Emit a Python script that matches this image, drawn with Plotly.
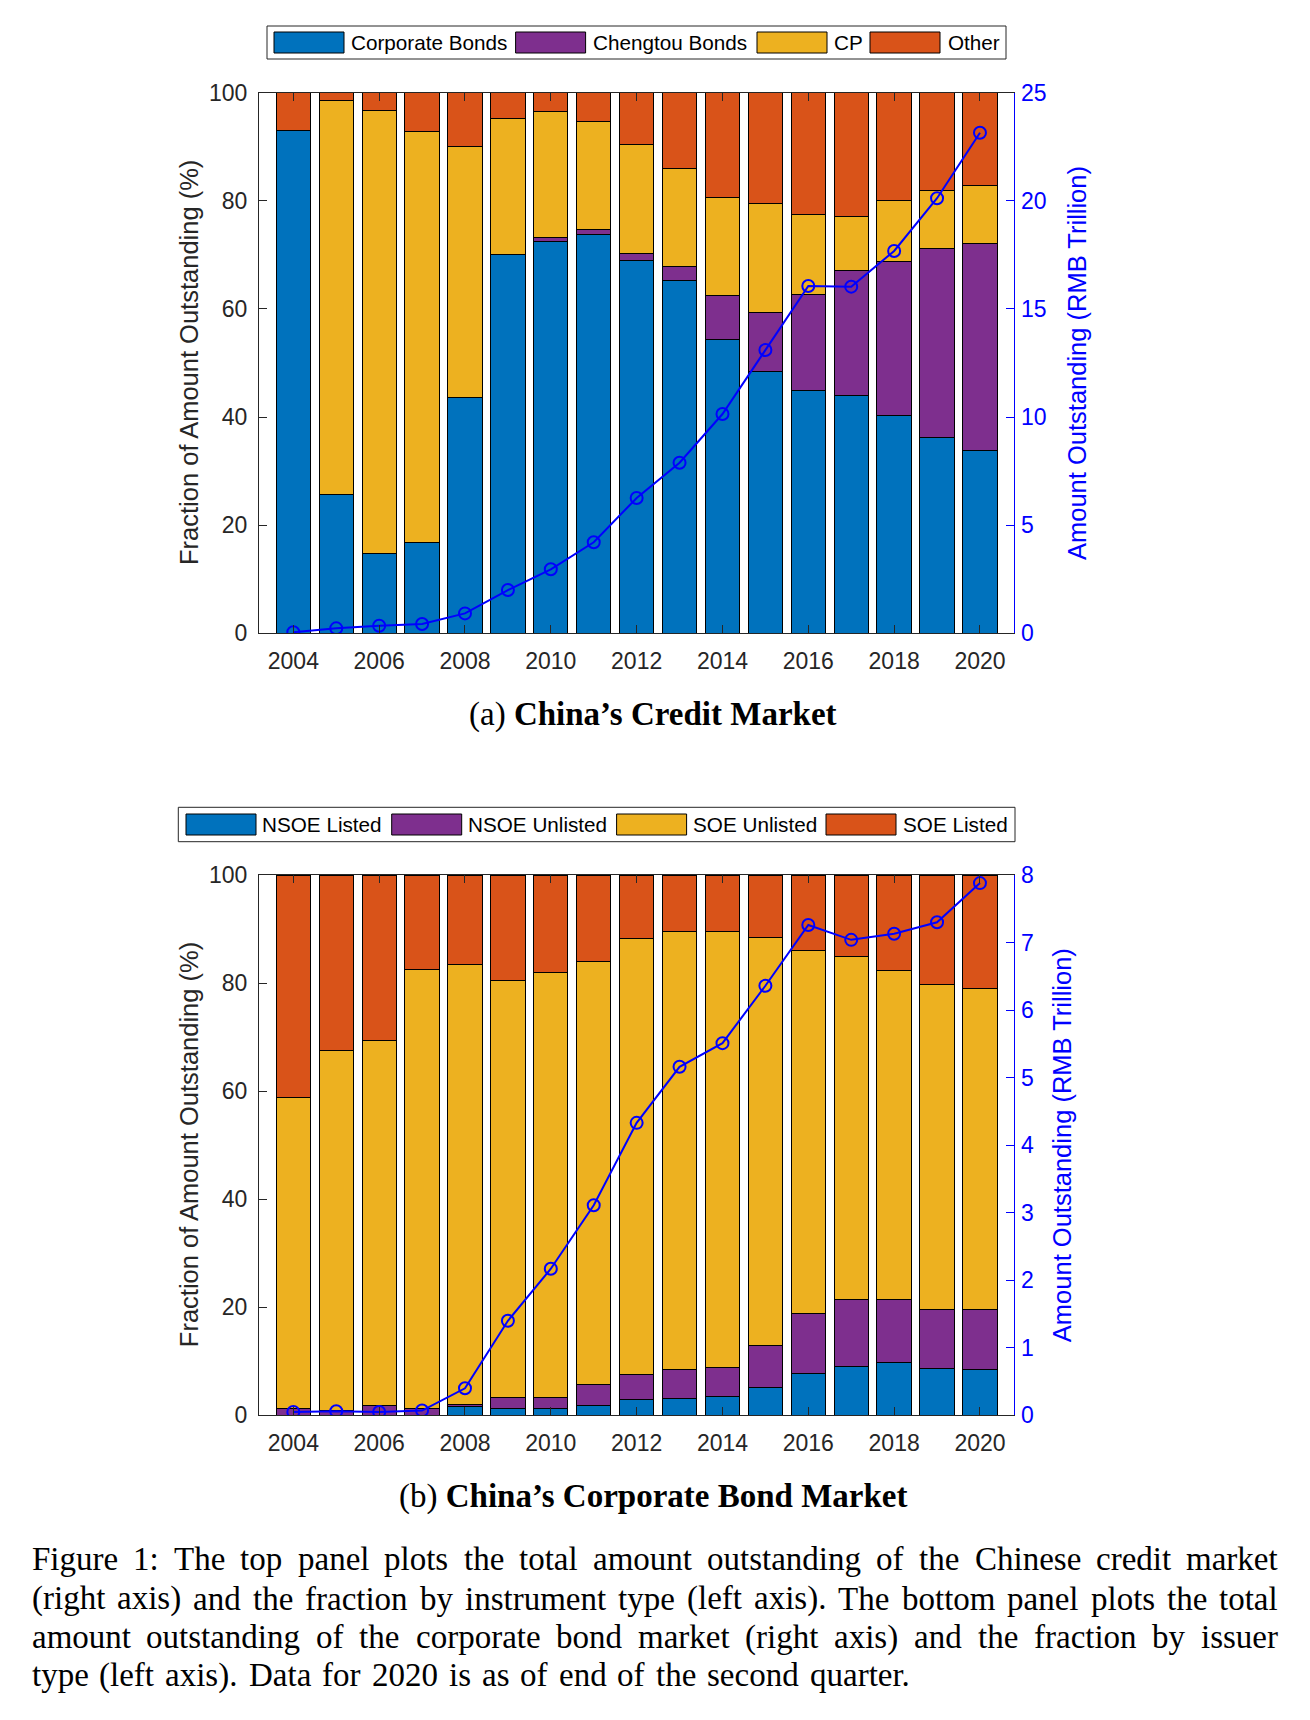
import plotly.graph_objects as go

# ---------------- data ----------------
years = list(range(2004, 2021))
xtick_years = list(range(2004, 2021, 2))

# Panel (a): China's credit market, fraction by instrument (%)
corporate_bonds = [93.0, 25.6, 14.8, 16.8, 43.6, 70.0, 72.5, 73.7, 68.9, 65.2, 54.3, 48.5, 45.0, 43.9, 40.2, 36.2, 33.9]
chengtou_bonds = [0.0, 0.0, 0.0, 0.0, 0.0, 0.0, 0.8, 1.0, 1.4, 2.7, 8.1, 10.9, 17.6, 23.2, 28.5, 34.9, 38.2]
cp = [0.0, 72.9, 82.0, 76.0, 46.4, 25.2, 23.3, 19.9, 20.2, 18.0, 18.2, 20.1, 14.8, 10.0, 11.4, 10.8, 10.8]
other = [7.0, 1.5, 3.2, 7.2, 10.0, 4.8, 3.4, 5.4, 9.5, 14.1, 19.4, 20.5, 22.6, 22.9, 19.9, 18.1, 17.1]
credit_total = [0.05, 0.23, 0.35, 0.43, 0.92, 2.0, 2.96, 4.21, 6.26, 7.89, 10.14, 13.1, 16.06, 16.03, 17.68, 20.12, 23.15]

# Panel (b): China's corporate bond market, fraction by issuer (%)
nsoe_listed = [0.0, 0.0, 0.0, 0.0, 1.6, 1.2, 1.3, 1.8, 3.0, 3.1, 3.4, 5.2, 7.8, 9.1, 9.8, 8.6, 8.4]
nsoe_unlisted = [1.2, 0.9, 1.8, 1.3, 0.4, 2.1, 2.0, 3.9, 4.6, 5.4, 5.5, 7.8, 11.0, 12.3, 11.7, 10.9, 11.1]
soe_unlisted = [57.6, 66.6, 67.5, 81.2, 81.4, 77.1, 78.7, 78.3, 80.7, 81.0, 80.7, 75.4, 67.3, 63.5, 60.9, 60.2, 59.5]
soe_listed = [41.2, 32.5, 30.7, 17.5, 16.6, 19.6, 18.0, 16.0, 11.7, 10.5, 10.4, 11.6, 13.9, 15.1, 17.6, 20.3, 21.0]
bond_total = [0.05, 0.06, 0.05, 0.07, 0.40, 1.40, 2.17, 3.11, 4.33, 5.16, 5.51, 6.36, 7.26, 7.04, 7.13, 7.30, 7.88]

left_ticks = [0, 20, 40, 60, 80, 100]
right_ticks_a = [0, 5, 10, 15, 20, 25]
right_ticks_b = [0, 1, 2, 3, 4, 5, 6, 7, 8]

top_names = ["Corporate Bonds", "Chengtou Bonds", "CP", "Other"]
bottom_names = ["NSOE Listed", "NSOE Unlisted", "SOE Unlisted", "SOE Listed"]

caption_lines = [
    "Figure 1:  The top panel plots the total amount outstanding of the Chinese credit market",
    "(right axis) and the fraction by instrument type (left axis). The bottom panel plots the total",
    "amount outstanding of the corporate bond market (right axis) and the fraction by issuer",
    "type (left axis). Data for 2020 is as of end of the second quarter.",
]

# ---------------- style ----------------
W, H = 1310, 1720
COLORS = ["#0072BD", "#7E2F8E", "#EDB120", "#D95319"]
AX = "#262626"
BLUE = "#0000FF"
SANS = "Liberation Sans, Arial, sans-serif"
SERIF = "Liberation Serif, Times New Roman, serif"


def fx(p):
    return p / W


def fy(p):
    return 1 - p / H


fig = go.Figure()

for name, vals, col in zip(top_names, [corporate_bonds, chengtou_bonds, cp, other], COLORS):
    fig.add_trace(go.Bar(x=years, y=vals, name=name, marker=dict(color=col, line=dict(color="black", width=1)),
                         xaxis="x", yaxis="y", showlegend=False))
fig.add_trace(go.Scatter(x=years, y=credit_total, mode="lines+markers", xaxis="x", yaxis="y2",
                         line=dict(color=BLUE, width=2),
                         marker=dict(symbol="circle-open", size=12, color=BLUE, line=dict(width=2, color=BLUE)),
                         showlegend=False))

for name, vals, col in zip(bottom_names, [nsoe_listed, nsoe_unlisted, soe_unlisted, soe_listed], COLORS):
    fig.add_trace(go.Bar(x=years, y=vals, name=name, marker=dict(color=col, line=dict(color="black", width=1)),
                         xaxis="x2", yaxis="y3", showlegend=False))
fig.add_trace(go.Scatter(x=years, y=bond_total, mode="lines+markers", xaxis="x2", yaxis="y4",
                         line=dict(color=BLUE, width=2),
                         marker=dict(symbol="circle-open", size=12, color=BLUE, line=dict(width=2, color=BLUE)),
                         showlegend=False))

tickfont = dict(family=SANS, size=23, color=AX)


def xaxis_cfg(anchor):
    return dict(anchor=anchor, domain=[fx(259), fx(1014.3)], range=[2003.2, 2020.8],
                tickvals=xtick_years, ticktext=[str(v) for v in xtick_years],
                ticks="inside", ticklen=8, tickwidth=1, tickcolor=AX,
                showline=True, linecolor=AX, linewidth=1, mirror="ticks", automargin=False,
                showgrid=False, zeroline=False, tickfont=tickfont, ticklabelstandoff=7)


def yleft_cfg(anchor, top, bottom):
    return dict(anchor=anchor, domain=[fy(bottom), fy(top)], range=[0, 100],
                tickvals=left_ticks, ticktext=[str(v) for v in left_ticks],
                ticks="inside", ticklen=8, tickwidth=1, tickcolor=AX,
                showline=True, linecolor=AX, linewidth=1, mirror=False, automargin=False,
                showgrid=False, zeroline=False, tickfont=tickfont, ticklabelstandoff=6)


def yright_cfg(anchor, overlay, rng, tv):
    return dict(anchor=anchor, overlaying=overlay, side="right", range=rng,
                tickvals=tv, ticktext=[str(v) for v in tv],
                ticks="inside", ticklen=8, tickwidth=1, tickcolor=BLUE,
                showline=True, linecolor=BLUE, linewidth=1, automargin=False,
                showgrid=False, zeroline=False,
                tickfont=dict(family=SANS, size=23, color=BLUE), ticklabelstandoff=1)


TOP_A, BOT_A = 92.7, 633.3
TOP_B, BOT_B = 875.0, 1415.3

fig.update_layout(
    width=W, height=H, autosize=False,
    margin=dict(l=0, r=0, t=0, b=0, pad=0, autoexpand=False),
    paper_bgcolor="white", plot_bgcolor="white",
    barmode="stack", bargap=0.2, showlegend=False,
    xaxis=xaxis_cfg("y"),
    yaxis=yleft_cfg("x", TOP_A, BOT_A),
    yaxis2=yright_cfg("x", "y", [0, 25], right_ticks_a),
    xaxis2=xaxis_cfg("y3"),
    yaxis3=yleft_cfg("x2", TOP_B, BOT_B),
    yaxis4=yright_cfg("x2", "y3", [0, 8], right_ticks_b),
)

annotations = []
shapes = []

# axis titles
ytitle = "Fraction of Amount Outstanding (%)"
rtitle = "Amount Outstanding (RMB Trillion)"
for cy, rx in [((TOP_A + BOT_A) / 2, 1077), ((TOP_B + BOT_B) / 2, 1062)]:
    annotations.append(dict(x=fx(189), y=fy(cy), xref="paper", yref="paper", text=ytitle, textangle=-90,
                            showarrow=False, xanchor="center", yanchor="middle",
                            font=dict(family=SANS, size=25.5, color=AX)))
    annotations.append(dict(x=fx(rx), y=fy(cy), xref="paper", yref="paper", text=rtitle, textangle=-90,
                            showarrow=False, xanchor="center", yanchor="middle",
                            font=dict(family=SANS, size=25.5, color=BLUE)))

# custom legends (MATLAB style wide swatches)
legends = [
    dict(box=(267, 26, 1006, 59), names=top_names,
         sw=[274, 515.6, 757, 870], tx=[349, 591, 831.6, 945.7]),
    dict(box=(178.3, 807.3, 1015, 841.7), names=bottom_names,
         sw=[186, 391.7, 616.6, 826], tx=[260, 466, 691, 900.7]),
]
for lg in legends:
    x0, y0, x1, y1 = lg["box"]
    shapes.append(dict(type="rect", xref="paper", yref="paper", x0=fx(x0), x1=fx(x1), y0=fy(y1), y1=fy(y0),
                       line=dict(color=AX, width=1), fillcolor="white", layer="above"))
    cy = (y0 + y1) / 2
    for name, sx, tx, col in zip(lg["names"], lg["sw"], lg["tx"], COLORS):
        shapes.append(dict(type="rect", xref="paper", yref="paper", x0=fx(sx), x1=fx(sx + 70),
                           y0=fy(cy + 10.5), y1=fy(cy - 10.5),
                           line=dict(color="black", width=1), fillcolor=col, layer="above"))
        annotations.append(dict(x=fx(tx), y=fy(cy), xref="paper", yref="paper", text=name, showarrow=False,
                                xanchor="left", yanchor="middle",
                                font=dict(family=SANS, size=20.7, color="black")))

# panel subtitles
annotations.append(dict(x=fx(653), y=fy(714), xref="paper", yref="paper",
                        text="(a) <b>China\u2019s Credit Market</b>", showarrow=False,
                        xanchor="center", yanchor="middle", font=dict(family=SERIF, size=33, color="black")))
annotations.append(dict(x=fx(653), y=fy(1496.5), xref="paper", yref="paper",
                        text="(b) <b>China\u2019s Corporate Bond Market</b>", showarrow=False,
                        xanchor="center", yanchor="middle", font=dict(family=SERIF, size=33, color="black")))

# figure caption, justified word by word (Times-Roman advance widths, per 1000 em)
TIMES = {" ": 250, "(": 333, ")": 333, ",": 250, ".": 250, ":": 278,
         "A": 722, "B": 667, "C": 667, "D": 722, "E": 611, "F": 556, "G": 722, "H": 722, "I": 333,
         "M": 889, "N": 722, "O": 722, "P": 556, "R": 667, "S": 556, "T": 611,
         "a": 444, "b": 500, "c": 444, "d": 500, "e": 444, "f": 333, "g": 500, "h": 500, "i": 278,
         "j": 278, "k": 500, "l": 278, "m": 778, "n": 500, "o": 500, "p": 500, "q": 500, "r": 333,
         "s": 389, "t": 278, "u": 500, "v": 500, "w": 722, "x": 500, "y": 500, "z": 444}
CAP_SIZE = 33
CAP_LEFT = 29.6
CAP_RIGHTS = [1276, 1276, 1276, 909.5]


def word_w(w):
    return sum(TIMES.get(ch, 500) for ch in w) * CAP_SIZE / 1000.0


for line, cy, right in zip(caption_lines, [1559, 1598.5, 1637, 1675], CAP_RIGHTS):
    words = line.replace("1:  ", "1: ").split(" ")
    widths = [word_w(w) for w in words]
    gap = (right - CAP_LEFT - sum(widths)) / (len(words) - 1)
    x = CAP_LEFT
    for w, ww in zip(words, widths):
        annotations.append(dict(x=fx(x), y=fy(cy), xref="paper", yref="paper", text=w, showarrow=False,
                                xanchor="left", yanchor="middle",
                                font=dict(family=SERIF, size=CAP_SIZE, color="black")))
        x += ww + gap

fig.update_layout(annotations=annotations, shapes=shapes)

fig.write_html("out.html", config={"displayModeBar": False},
               post_script="document.body.style.margin='0';document.body.style.overflow='hidden';")
